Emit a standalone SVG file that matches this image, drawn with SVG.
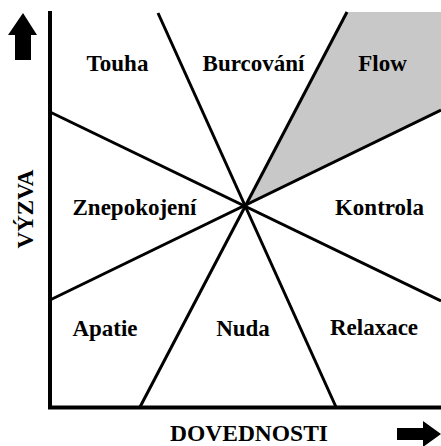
<svg xmlns="http://www.w3.org/2000/svg" width="441" height="446" viewBox="0 0 441 446">
<style>
.lbl{font-family:'Liberation Serif','Times New Roman',Times,serif;font-weight:700;font-size:23px;fill:#000;text-anchor:middle}
.ray{stroke:#000;stroke-width:3;fill:none}
.axis{stroke:#000;stroke-width:4;fill:none}
</style>
<rect width="441" height="446" fill="#fff"/>
<g id="flow-region">
<polygon points="347,12 441,12 441,110 245,207" fill="#c8c8c8"/>
</g>
<g id="connectors">
<line class="ray" x1="158" y1="13" x2="336" y2="407"/>
<line class="ray" x1="347" y1="12" x2="140" y2="407"/>
<line class="ray" x1="441" y1="110" x2="50" y2="300"/>
<line class="ray" x1="441" y1="301" x2="50" y2="112"/>
<line class="axis" x1="50" y1="11" x2="50" y2="409"/>
<line class="axis" x1="48" y1="407.5" x2="441" y2="407.5"/>
<polygon id="arrow-up" points="23,13 37,35 31,35 31,60 15,60 15,35 8,35" fill="#000"/>
<polygon id="arrow-right" points="441,434 423,421 423,428 397,428 397,440 423,440 423,447" fill="#000"/>
</g>
<g id="touha"><text class="lbl" x="117.5" y="71">Touha</text></g>
<g id="burcovani"><text class="lbl" x="253.5" y="71">Burcování</text></g>
<g id="flow"><text class="lbl" x="382.5" y="71">Flow</text></g>
<g id="znepokojeni"><text class="lbl" x="134.5" y="215">Znepokojení</text></g>
<g id="kontrola"><text class="lbl" x="379.5" y="215">Kontrola</text></g>
<g id="apatie"><text class="lbl" x="105" y="336">Apatie</text></g>
<g id="nuda"><text class="lbl" x="243" y="336">Nuda</text></g>
<g id="relaxace"><text class="lbl" x="374" y="335">Relaxace</text></g>
<g id="dovednosti"><text class="lbl" x="249" y="441" style="font-size:23.5px">DOVEDNOSTI</text></g>
<g id="vyzva"><text class="lbl" transform="translate(33,209) rotate(-90)">VÝZVA</text></g>
</svg>
